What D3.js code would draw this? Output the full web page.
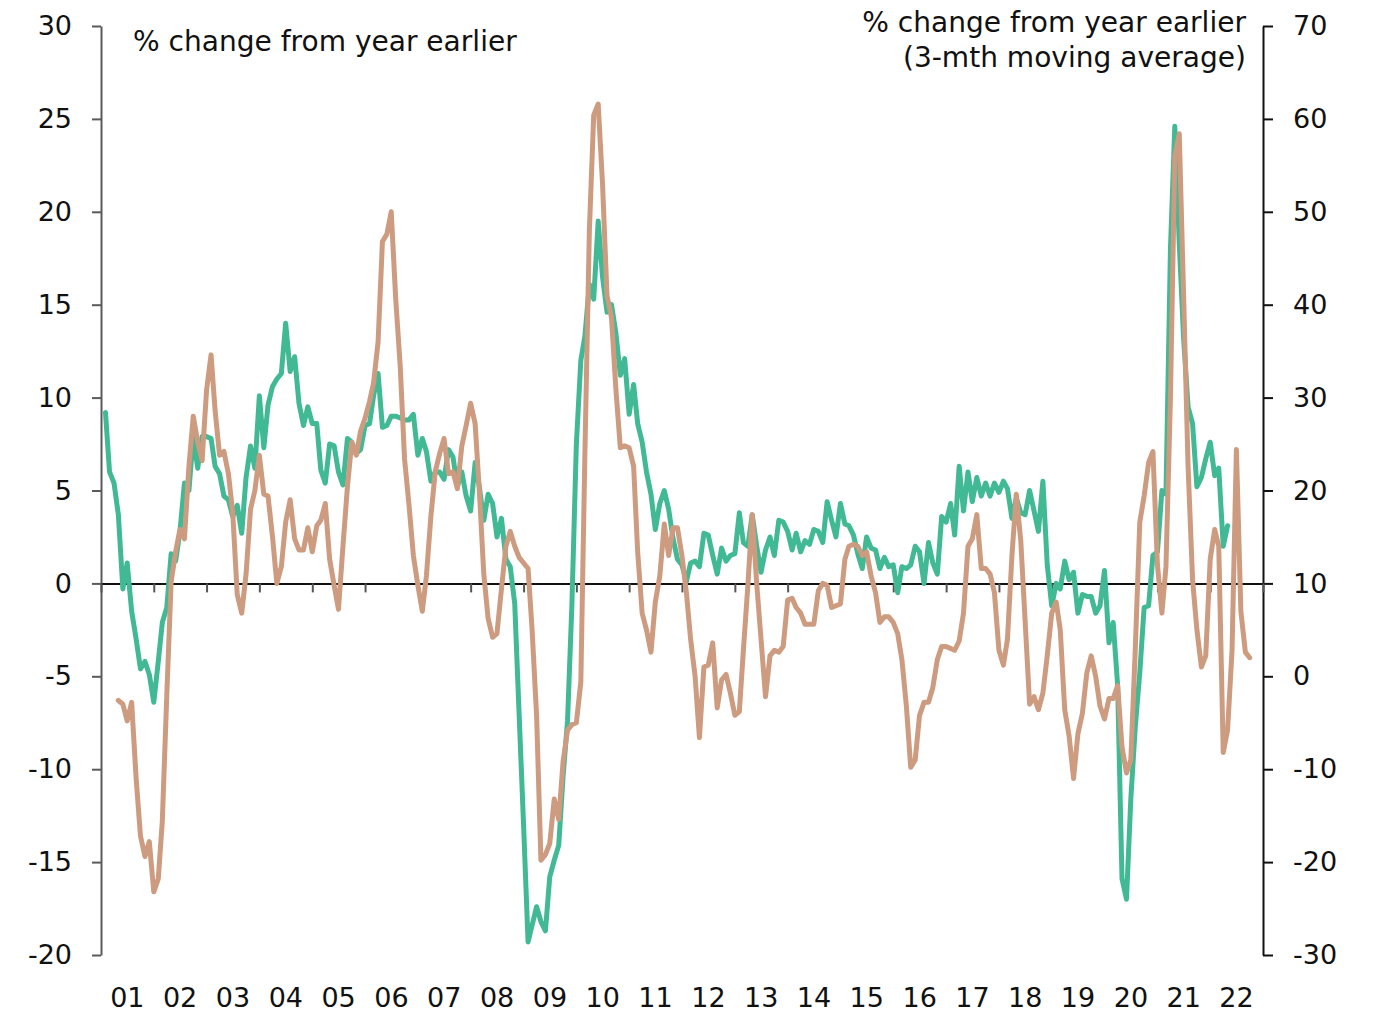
<!DOCTYPE html>
<html>
<head>
<meta charset="utf-8">
<script src="https://cdn.jsdelivr.net/npm/d3@7"></script>
<style>
  html, body { margin: 0; padding: 0; background: #ffffff; }
  svg { display: block; }
  text { font-family: "DejaVu Sans", "Noto Sans", sans-serif; fill: #111; }
</style>
</head>
<body>
<svg id="chart" width="1373" height="1013"></svg>
<script>
// ---------------- DATA ----------------
// Green series: % change from year earlier (left axis), monthly from Feb 2001
const greenStart = [2001, 1]; // year, month index (0 = Jan)
const greenValues = [
  9.2, 6.0, 5.4, 3.7, -0.3, 1.1, -1.5, -3.0, -4.6, -4.2, -4.9,
  -6.4, -4.2, -2.1, -1.3, 1.6, 1.2, 2.8, 5.4, 5.0, 7.9, 6.2, 7.9,
  7.9, 7.8, 6.3, 5.9, 4.7, 4.5, 3.6, 4.2, 2.7, 5.7, 7.4, 6.2,
  10.1, 7.3, 9.6, 10.6, 11.0, 11.3, 14.0, 11.4, 12.2, 9.7, 8.5, 9.5,
  8.6, 8.6, 6.1, 5.4, 7.5, 7.4, 6.0, 5.3, 7.8, 7.6, 7.0, 7.2,
  8.5, 8.6, 10.1, 11.3, 8.4, 8.5, 9.0, 9.0, 8.9, 8.8, 8.8, 9.1,
  6.9, 7.8, 7.1, 5.5, 6.0, 6.0, 5.6, 7.2, 6.8, 5.2, 6.0, 4.7,
  3.9, 6.5, 5.2, 3.4, 4.8, 4.3, 2.5, 3.5, 1.3, 0.9, -1.1, -7.0,
  -13.0, -19.3, -18.4, -17.4, -18.2, -18.7, -15.8, -14.9, -14.1, -10.4, -7.4, -1.2,
  7.5, 12.0, 13.3, 16.1, 15.3, 19.5, 16.5, 14.6, 15.0, 13.5, 11.2, 12.1,
  9.1, 10.7, 8.6, 7.6, 6.0, 4.8, 2.9, 4.3, 5.0, 4.0, 2.4, 1.3,
  1.0, 0.1, 1.1, 1.2, 0.9, 2.7, 2.6, 1.5, 0.5, 1.9, 1.2, 1.5,
  1.6, 3.8, 2.2, 2.0, 3.7, 2.0, 0.6, 1.8, 2.5, 1.5, 3.4, 3.3,
  2.8, 1.8, 2.7, 1.7, 2.3, 2.1, 2.9, 2.8, 2.2, 4.4, 3.4, 2.5,
  4.3, 3.2, 3.1, 2.6, 1.6, 0.8, 2.5, 1.9, 1.8, 0.8, 1.4, 0.9,
  1.0, -0.5, 0.9, 0.8, 1.0, 2.0, 1.7, 0.0, 2.2, 1.1, 0.5, 3.6,
  3.3, 4.3, 2.6, 6.3, 3.9, 6.0, 4.4, 5.7, 4.7, 5.4, 4.7, 5.4,
  4.9, 5.5, 5.1, 3.5, 4.6, 3.8, 3.7, 5.0, 3.9, 2.8, 5.5, 1.0,
  -1.2, 0.0, -0.3, 1.2, 0.2, 0.6, -1.6, -0.6, -0.7, -0.7, -1.6, -1.2,
  0.7, -3.2, -2.1, -5.5, -15.9, -17.0, -11.6, -7.7, -4.8, -1.3, -1.2, 1.5,
  1.7, 5.0, 4.8, 18.0, 24.6, 18.3, 13.2, 9.5, 8.6, 5.2, 5.7, 6.7,
  7.6, 5.8, 6.2, 2.0, 3.1
];

// Orange series: % change from year earlier, 3-mth moving average (right axis), monthly from May 2001
const orangeStart = [2001, 4];
const orangeValues = [
  -2.6, -3.0, -4.8, -2.8, -11.0, -17.2, -19.4, -17.8,
  -23.2, -21.8, -15.6, -2.0, 10.2, 13.4, 15.8, 14.8, 22.6, 28.0, 25.2, 23.2,
  30.8, 34.6, 28.6, 23.8, 24.2, 21.8, 17.6, 8.8, 6.8, 11.0, 18.0, 20.0,
  23.8, 19.6, 19.4, 15.0, 10.0, 11.8, 16.6, 19.0, 14.8, 13.6, 13.6, 16.0,
  13.4, 16.2, 16.8, 18.6, 12.6, 9.8, 7.2, 14.0, 20.4, 25.2, 23.8, 26.4,
  27.8, 29.6, 31.6, 36.0, 46.8, 47.6, 50.0, 40.6, 33.4, 23.4, 18.4, 13.0,
  9.8, 7.0, 10.8, 17.2, 22.0, 24.0, 25.6, 21.8, 22.0, 20.2, 24.8, 27.0,
  29.4, 27.2, 20.0, 11.0, 6.2, 4.2, 4.6, 9.4, 14.0, 15.6, 14.0, 12.8,
  12.2, 11.6, 5.0, -4.2, -19.8, -19.2, -18.0, -13.2, -15.4, -9.2, -5.8, -5.2,
  -5.0, -0.6, 24.0, 48.0, 60.4, 61.6, 53.0, 41.0, 38.6, 31.0, 24.6, 24.8,
  24.6, 22.6, 13.4, 6.8, 5.0, 2.6, 8.0, 10.8, 16.4, 13.0, 16.0, 16.0,
  13.0, 9.0, 4.0, 0.0, -6.6, 1.0, 1.2, 3.6, -3.4, -0.4, 0.2, -1.8,
  -4.2, -3.8, 2.8, 9.8, 17.4, 10.0, 4.0, -2.2, 2.2, 2.8, 2.6, 3.2,
  8.2, 8.4, 7.4, 6.8, 5.6, 5.6, 5.6, 9.2, 10.0, 9.8, 7.4, 7.6,
  7.8, 12.6, 14.0, 14.2, 14.0, 13.0, 13.4, 10.8, 9.0, 5.8, 6.4, 6.4,
  5.8, 4.6, 1.8, -3.2, -9.8, -9.0, -4.2, -2.8, -2.8, -1.2, 1.8, 3.2,
  3.2, 3.0, 2.8, 3.8, 6.8, 14.0, 14.8, 17.4, 11.6, 11.6, 11.0, 9.0,
  2.8, 1.2, 4.0, 13.0, 19.6, 14.6, 6.0, -3.0, -2.2, -3.6, -1.8, 2.2,
  6.8, 8.0, 5.0, -3.6, -6.4, -11.0, -6.2, -4.0, 0.4, 2.2, 0.0, -3.2,
  -4.6, -2.4, -2.4, -1.0, -7.6, -10.4, -9.0, 3.0, 16.6, 19.4, 23.0, 24.2,
  12.0, 6.8, 11.8, 30.0, 56.0, 58.4, 41.0, 22.6, 10.4, 5.0, 1.0, 2.2,
  12.6, 15.8, 14.0, -8.2, -5.8, 2.8, 24.4, 7.0, 2.6, 2.0
];

const leftTicks = [30, 25, 20, 15, 10, 5, 0, -5, -10, -15, -20];
const rightTicks = [70, 60, 50, 40, 30, 20, 10, 0, -10, -20, -30];
const yearLabels = ["01","02","03","04","05","06","07","08","09","10","11",
                    "12","13","14","15","16","17","18","19","20","21","22"];
const firstYear = 2001;
const leftTitle = "% change from year earlier";
const rightTitle = ["% change from year earlier", "(3-mth moving average)"];

// ---------------- LAYOUT ----------------
const plot = { left: 101, right: 1263, top: 26, bottom: 955 };
const greenColor = "#41b994";
const orangeColor = "#cd9b7f";

const svg = d3.select("#chart");

const x = d3.scaleUtc()
  .domain([new Date(Date.UTC(firstYear, 0, 1)), new Date(Date.UTC(firstYear + yearLabels.length, 0, 1))])
  .range([plot.left, plot.right]);
const yL = d3.scaleLinear().domain([-20, 30]).range([plot.bottom, plot.top]);
const yR = d3.scaleLinear().domain([-30, 70]).range([plot.bottom, plot.top]);

const toSeries = (start, values) => values.map((v, i) => ({
  date: new Date(Date.UTC(start[0], start[1] + i, 1)),
  value: v
}));
const green = toSeries(greenStart, greenValues);
const orange = toSeries(orangeStart, orangeValues);

const tickFont = 27;
const fmt = d => String(d); // plain hyphen-minus like the original

// Left axis
const gL = svg.append("g")
  .attr("transform", `translate(${plot.left},0)`)
  .call(d3.axisLeft(yL).tickValues(leftTicks).tickSize(9).tickSizeOuter(0).tickPadding(20).tickFormat(fmt));
gL.select(".domain").attr("stroke", "#5a5a5a").attr("stroke-width", 2);
gL.selectAll(".tick line").attr("stroke", "#5a5a5a").attr("stroke-width", 2);
gL.selectAll(".tick text").attr("font-size", tickFont).attr("fill", "#111")
  .attr("font-family", "DejaVu Sans, sans-serif");

// Right axis
const gR = svg.append("g")
  .attr("transform", `translate(${plot.right},0)`)
  .call(d3.axisRight(yR).tickValues(rightTicks).tickSize(10).tickSizeOuter(0).tickPadding(20).tickFormat(fmt));
gR.select(".domain").attr("stroke", "#111").attr("stroke-width", 2);
gR.selectAll(".tick line").attr("stroke", "#111").attr("stroke-width", 2);
gR.selectAll(".tick text").attr("font-size", tickFont).attr("fill", "#111")
  .attr("font-family", "DejaVu Sans, sans-serif");

// Zero line with year ticks
const yearBounds = d3.utcYear.range(
  new Date(Date.UTC(firstYear, 0, 1)),
  new Date(Date.UTC(firstYear + yearLabels.length, 0, 2)));
const gZ = svg.append("g")
  .attr("transform", `translate(0,${yL(0)})`)
  .call(d3.axisBottom(x).tickValues(yearBounds).tickSize(9).tickSizeOuter(0).tickFormat(""));
gZ.select(".domain").attr("stroke", "#111").attr("stroke-width", 2);
gZ.selectAll(".tick line").attr("stroke", "#555").attr("stroke-width", 2);

// Year labels at bottom, centred in each year
svg.append("g").selectAll("text")
  .data(yearLabels)
  .join("text")
  .attr("x", (d, i) => x(new Date(Date.UTC(firstYear + i, 6, 2))))
  .attr("y", 1007)
  .attr("text-anchor", "middle")
  .attr("font-size", tickFont)
  .text(d => d);

// Lines
const lineL = d3.line().x(d => x(d.date)).y(d => yL(d.value));
const lineR = d3.line().x(d => x(d.date)).y(d => yR(d.value));

svg.append("path")
  .datum(green)
  .attr("fill", "none")
  .attr("stroke", greenColor)
  .attr("stroke-width", 5)
  .attr("stroke-linejoin", "round")
  .attr("stroke-linecap", "round")
  .attr("d", lineL);

svg.append("path")
  .datum(orange)
  .attr("fill", "none")
  .attr("stroke", orangeColor)
  .attr("stroke-width", 5)
  .attr("stroke-linejoin", "round")
  .attr("stroke-linecap", "round")
  .attr("d", lineR);

// Titles
const tL = svg.append("text")
  .attr("x", 133).attr("y", 51)
  .attr("font-size", 26)
  .text(leftTitle);
const targetW = 384;
const measured = tL.node().getComputedTextLength();
const titleSize = 26 * targetW / measured;
tL.attr("font-size", titleSize);

const tR = svg.append("text")
  .attr("text-anchor", "end")
  .attr("font-size", titleSize);
tR.selectAll("tspan")
  .data(rightTitle)
  .join("tspan")
  .attr("x", 1246)
  .attr("y", (d, i) => 32 + i * 35)
  .text(d => d);
</script>
</body>
</html>
